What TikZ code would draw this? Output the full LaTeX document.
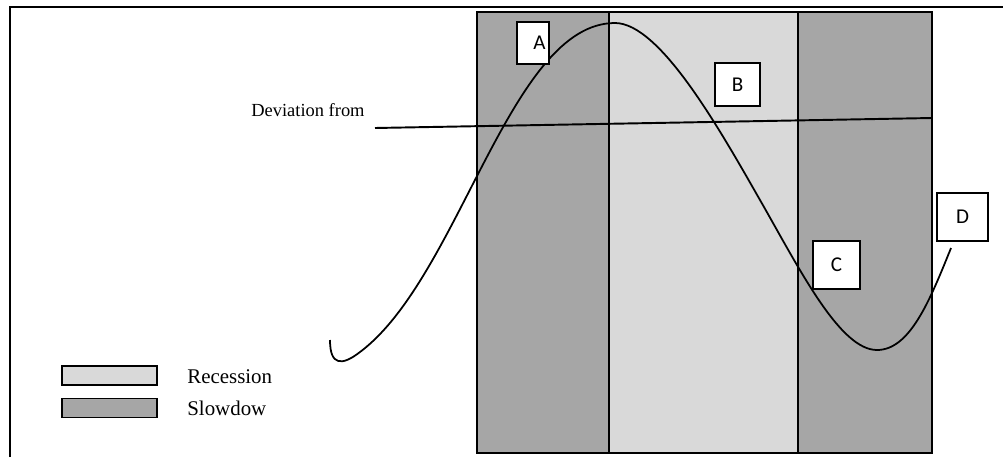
\documentclass[tikz,border=0pt]{standalone}
\usepackage{fontspec}
\setmainfont{Liberation Serif}
\newfontfamily\labelfont{Carlito}
\usepackage{xcolor}
\definecolor{banddark}{RGB}{166,166,166}
\definecolor{bandlight}{RGB}{217,217,217}
\usepackage{tikz}
\tikzset{
  band/.style={draw=black,line width=1.1pt},
  tag/.style={draw=black,fill=white,line width=1.1pt,inner sep=0pt,font=\labelfont\fontsize{12}{13}\selectfont},
  legendbox/.style={draw=black,line width=1pt,minimum width=1.9cm,minimum height=0.38cm,inner sep=0pt},
  legendtext/.style={anchor=west,inner sep=0pt,font=\fontsize{11.9}{13}\selectfont}
}

\begin{document}
\begin{tikzpicture}[x=0.02cm,y=-0.02cm]
\useasboundingbox (0,0) rectangle (1003,457);
% frame
\draw[line width=1.1pt] (10,457)--(10,7)--(1003,7);
% phases
\draw[band,fill=banddark] (477,12) rectangle (609,453);
\draw[band,fill=bandlight] (609,12) rectangle (798,453);
\draw[band,fill=banddark] (798,12) rectangle (932,453);
% trend line
\coordinate (T0) at (375,128); \coordinate (T1) at (932,118);
\draw[line width=1.1pt] (T0)--(T1);
\node[anchor=west,inner sep=0pt,font=\fontsize{10.5}{12}\selectfont] (dev) at (251,110) {Deviation from};
% cycle
\draw[line width=1pt] (330,340) .. controls (330,366) and (342,366) .. (360,352)
  .. controls (460,277) and (510,23) .. (615,23)
  .. controls (660,23) and (720,130) .. (760,200)
  .. controls (800,270) and (840,350) .. (877,350)
  .. controls (910,350) and (930,300) .. (951,248);
% points
\node[tag,minimum width=0.64cm,minimum height=0.84cm,text width=0.5cm,align=right] (A) at (533,43) {A};
\node[tag,minimum width=0.9cm,minimum height=0.86cm] (B) at (737.5,84.5) {B};
\node[tag,minimum width=0.94cm,minimum height=0.96cm] (C) at (836.5,265) {C};
\node[tag,minimum width=1.02cm,minimum height=0.96cm] (D) at (962.5,217) {D};
% legend
\node[legendbox,fill=bandlight] (rec) at (109.5,375.5) {};
\node[legendbox,fill=banddark] (slow) at (109.5,408) {};
\node[legendtext] (rectext) at (187,377) {Recession};
\node[legendtext] (slowtext) at (187,408) {Slowdow};
\end{tikzpicture}
\end{document}
